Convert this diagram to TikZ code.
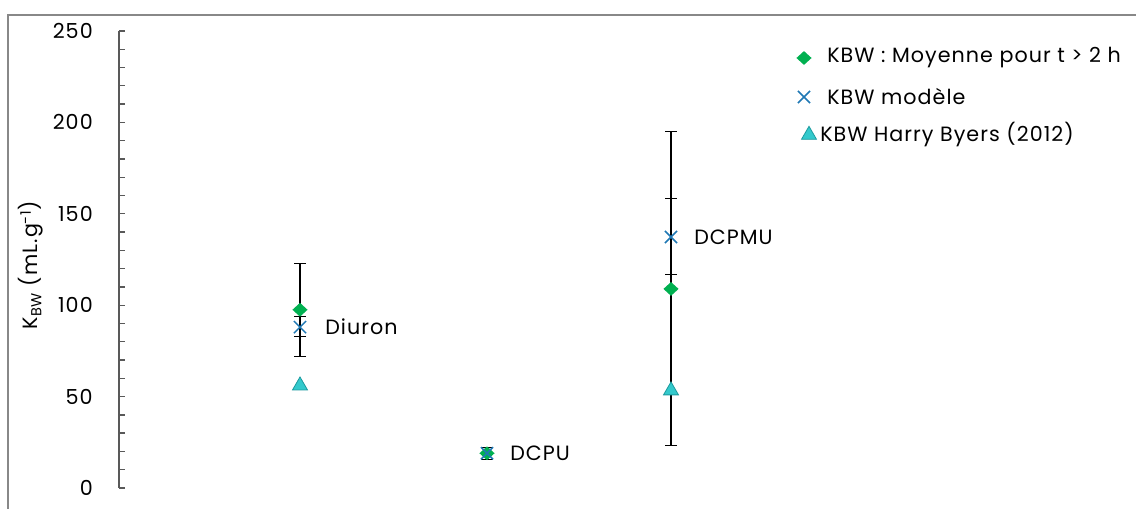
\documentclass[tikz,border=0pt]{standalone}
\usepackage{fontspec}
\setmainfont{Poppins}[LetterSpace=5]
\usetikzlibrary{shapes.geometric,shapes.misc,arrows.meta}

\definecolor{kgreen}{HTML}{00B050}
\definecolor{kblue}{HTML}{1F78B4}
\definecolor{kcyan}{HTML}{33C9CC}
\definecolor{kcyandark}{HTML}{1C9A9E}
\definecolor{framegray}{HTML}{888888}
\definecolor{axisgray}{HTML}{595959}

\tikzset{
  moy/.style={diamond, fill=kgreen, inner sep=0pt, minimum width=11.5pt, minimum height=10.5pt},
  mod/.style={cross out, draw=kblue, line width=1.1pt, inner sep=0pt, minimum size=8pt},
  hb/.style={regular polygon, regular polygon sides=3, fill=kcyan, draw=kcyandark, line width=0.6pt, inner sep=0pt, minimum size=13pt},
  errbar/.style={black, line width=0.9pt, {Bar[width=9pt]}-{Bar[width=9pt]}},
  lbl/.style={anchor=west, inner sep=0pt, font=\fontsize{15.5}{18}\selectfont},
  num/.style={anchor=east, inner sep=0pt, font=\fontsize{15.5}{18}\selectfont},
}

\begin{document}
\begin{tikzpicture}[x=0.75pt, y=0.75pt]
    \useasboundingbox (0,0) rectangle (1136,509);
    % outer frame
    \draw[framegray, line width=1pt] (8,0) -- (8,494) -- (1140,494);
    % axis title
    \node[rotate=90, inner sep=0pt, font=\fontsize{15.5}{18}\selectfont] (ytitle) at (31,244)
        {K\textsubscript{BW} (mL.g\textsuperscript{-1})};
    \begin{scope}[shift={(0,21)}, y=1.371pt]
    % y axis with ticks
    \draw[axisgray, line width=1pt] (119,0) -- (119,250);
    \foreach \v in {0,10,...,250}
        \draw[axisgray, line width=1pt] (119,\v) -- ++(6,0);
    \foreach \v in {0,50,...,250}
        \node[num] (tick\v) at (93,\v) {\v};
    % error bars
    \draw[errbar] (300,71.7) -- (300,123.2);
    \draw[errbar] (300,82.6) -- (300,94.1);
    \draw[errbar] (487,15.3) -- (487,22.6);
    \draw[errbar] (671,23.1) -- (671,195.3);
    \draw[errbar] (671,116.5) -- (671,158.5);
    % Diuron
    \node[moy] (diuronmoy) at (300,97.5) {};
    \node[mod] (diuronmod) at (300,88) {};
    \node[hb] (diuronhb) at (300,56) {};
    \node[lbl] (diuron) at (325,88) {Diuron};
    % DCPU
    \node[moy] (dcpumoy) at (487,19) {};
    \node[mod] (dcpumod) at (487,19) {};
    \node[lbl] (dcpu) at (510,19) {DCPU};
    % DCPMU
    \node[moy] (dcpmumoy) at (671,108.9) {};
    \node[mod] (dcpmumod) at (671,137.3) {};
    \node[hb] (dcpmuhb) at (671,53.3) {};
    \node[lbl] (dcpmu) at (694,137.3) {DCPMU};
    \end{scope}
    % legend
    \node[moy] (legmoy) at (804,451) {};
    \node[lbl] (legmoytext) at (827,451) {KBW : Moyenne pour t > 2 h};
    \node[mod] (legmod) at (804,412) {};
    \node[lbl] (legmodtext) at (827,412) {KBW modèle};
    \node[hb] (leghb) at (809,374) {};
    \node[lbl] (leghbtext) at (820,374) {KBW Harry Byers (2012)};
\end{tikzpicture}
\end{document}
